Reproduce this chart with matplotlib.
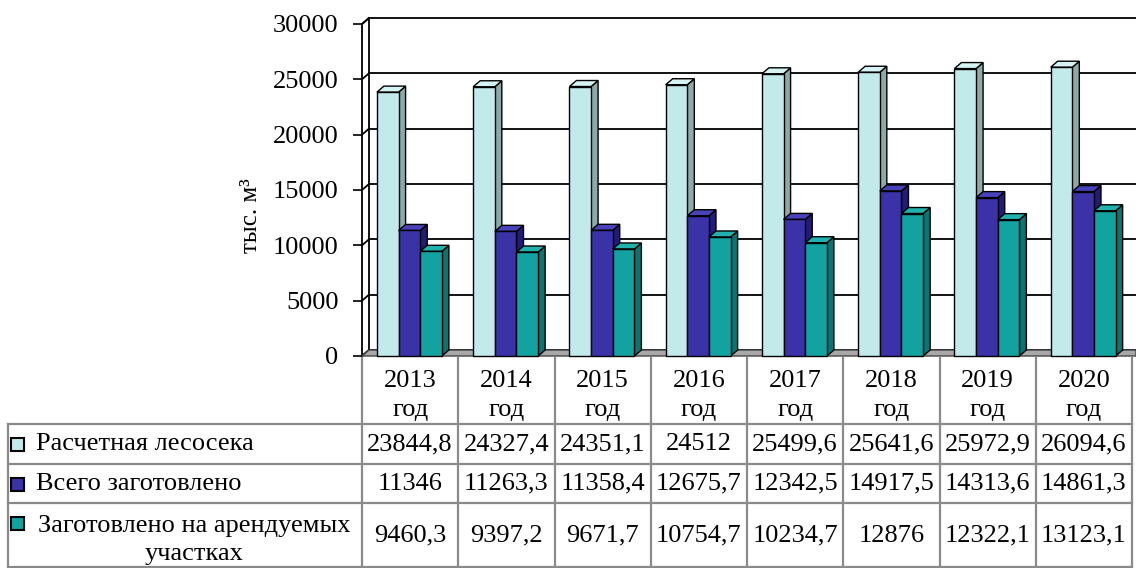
import matplotlib
matplotlib.use("Agg")
import matplotlib.pyplot as plt
import matplotlib.transforms as mtransforms
from matplotlib.patches import Polygon, Rectangle

# ---- data ----
years = ["2013", "2014", "2015", "2016", "2017", "2018", "2019", "2020"]
year_suffix = "год"
series_names = ["Расчетная лесосека", "Всего заготовлено",
                "Заготовлено на арендуемых\nучастках"]
raschet = [23844.8, 24327.4, 24351.1, 24512, 25499.6, 25641.6, 25972.9, 26094.6]
vsego = [11346, 11263.3, 11358.4, 12675.7, 12342.5, 14917.5, 14313.6, 14861.3]
arenda = [9460.3, 9397.2, 9671.7, 10754.7, 10234.7, 12876, 12322.1, 13123.1]
y_ticks = [0, 5000, 10000, 15000, 20000, 25000, 30000]
y_label = "тыс. м³"

face_colors = ["#C2EAEA", "#3A32A6", "#12A3A0"]
side_colors = ["#8FA9A9", "#221C78", "#0B7370"]
top_colors = ["#D6F3F3", "#4A42B8", "#22B2AE"]

W, H = 1136, 568
plt.rcParams['font.family'] = ['Liberation Serif', 'DejaVu Serif']
fig = plt.figure(figsize=(W / 100, H / 100), dpi=100)

# axes in pixel layout
x_left, x_right = 362, 1132
y_zero, y_top = 356, 24
ncat = len(years)
ax = fig.add_axes([x_left / W, 1 - y_zero / H, (x_right - x_left) / W, (y_zero - y_top) / H])
ax.set_xlim(0, ncat)
ax.set_ylim(0, 30000)
px_x = ncat / (x_right - x_left)
px_y = 30000 / (y_zero - y_top)
dx = 7 * px_x
dy = 6 * px_y
x_end = (W - x_left) * px_x

for s in ax.spines.values():
    s.set_visible(False)
ax.set_xticks([])
ax.set_yticks(y_ticks)
ax.set_yticklabels([str(v) for v in y_ticks], fontsize=19)
ax.tick_params(axis='y', length=6.5, width=1.2, pad=10.5, color='black')
ax.set_facecolor('none')

# walls
lw = 1.3
ax.add_patch(Polygon([(0, 0), (dx, dy), (dx, 30000 + dy), (0, 30000)], closed=True,
                     facecolor='white', edgecolor='black', lw=lw, clip_on=False, zorder=1))
for v in y_ticks:
    ax.plot([0, dx], [v, v + dy], color='black', lw=lw, clip_on=False, zorder=2)
    ax.plot([dx, x_end], [v + dy, v + dy], color='black', lw=lw, clip_on=False, zorder=1)
# floor
ax.add_patch(Polygon([(0, 0), (dx, dy), (x_end, dy), (x_end, 0)], closed=True,
                     facecolor='#A8A8A8', edgecolor='#444444', lw=1.0, clip_on=False, zorder=2))

# bars
series = [raschet, vsego, arenda]
bw = 0.225
starts = [0.155, 0.38, 0.605]
for k in range(ncat):
    for i, vals in enumerate(series):
        v = vals[k]
        x0 = k + starts[i]
        x1 = x0 + bw
        z = 3 + i
        ax.add_patch(Polygon([(x1, 0), (x1 + dx, dy), (x1 + dx, v + dy), (x1, v)], closed=True,
                             facecolor=side_colors[i], edgecolor='black', lw=1.0, zorder=z,
                             clip_on=False))
        ax.add_patch(Polygon([(x0, v), (x0 + dx, v + dy), (x1 + dx, v + dy), (x1, v)], closed=True,
                             facecolor=top_colors[i], edgecolor='black', lw=1.0, zorder=z,
                             clip_on=False))
        ax.add_patch(Rectangle((x0, 0), bw, v, facecolor=face_colors[i], edgecolor='black',
                               lw=1.0, zorder=z, clip_on=False))

# ---- pixel transform for texts and table ----
pix = mtransforms.Affine2D().scale(1 / W, -1 / H).translate(0, 1) + fig.transFigure

fig.text(251, 216, y_label, transform=pix, rotation=90, ha='center', va='center', fontsize=18)

grid_c = '#8A8A8A'
glw = 1.6
col_w = (x_right - x_left) / ncat
row_y = [424, 464, 503, 568]
label_left = 8

def line(xs, ys):
    fig.add_artist(plt.Line2D(xs, ys, transform=pix, color=grid_c, lw=glw))

for k in range(ncat + 1):
    x = x_left + k * col_w
    line([x, x], [358, 568])
line([label_left, label_left], [row_y[0], 568])
for y in row_y[:3]:
    line([label_left, x_right], [y, y])
line([label_left, x_right], [567, 567])

for k, yr in enumerate(years):
    cx = x_left + (k + 0.5) * col_w
    fig.text(cx, 381, yr, transform=pix, ha='center', va='center', fontsize=19)
    fig.text(cx, 410, year_suffix, transform=pix, ha='center', va='center', fontsize=19)
    for r, vals in enumerate(series):
        v = vals[k]
        s = (f"{v:.1f}".rstrip('0').rstrip('.')).replace('.', ',')
        cy = (row_y[r] + row_y[r + 1]) / 2
        fig.text(cx, cy, s, transform=pix, ha='center', va='center', fontsize=19)

label_cy = [444, 484, 523]
for r, name in enumerate(series_names):
    fig.add_artist(Rectangle((11, label_cy[r] - 6.5), 13, 13, transform=pix,
                             facecolor=face_colors[r], edgecolor='black', lw=1.5))
    if '\n' in name:
        fig.text(194, 540, name, transform=pix, ha='center',
                 va='center', fontsize=19, multialignment='center', linespacing=1.32)
    else:
        fig.text(36, label_cy[r], name, transform=pix, ha='left', va='center', fontsize=19)

fig.savefig("out.png", dpi=100)
